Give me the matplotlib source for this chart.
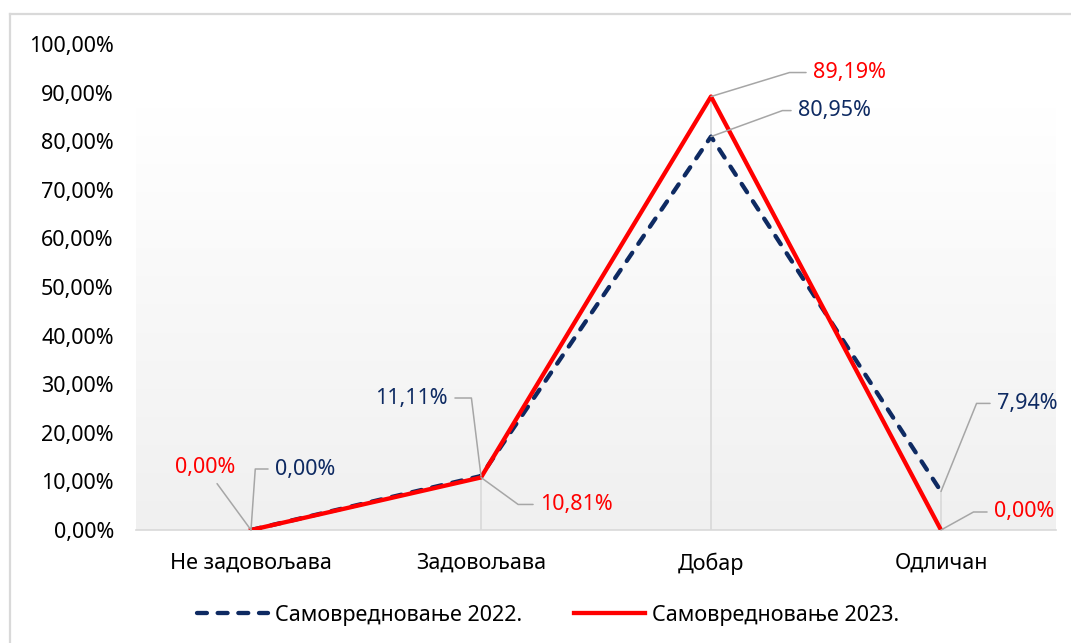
import matplotlib; matplotlib.use("Agg")
import matplotlib.pyplot as plt
import numpy as np
from matplotlib.colors import LinearSegmentedColormap
from matplotlib.ticker import FuncFormatter

# data
categories = ["Не задовољава", "Задовољава", "Добар", "Одличан"]
vals_2022 = [0.0, 11.11, 80.95, 7.94]
vals_2023 = [0.0, 10.81, 89.19, 0.0]
labels = ["Самовредновање 2022.", "Самовредновање 2023."]

BLUE = "#0E2A62"
RED = "#FF0000"
GRAY = "#A6A6A6"
FONT = ["Noto Sans", "DejaVu Sans"]
FS = 15.5

plt.rcParams["font.family"] = FONT

fig = plt.figure(figsize=(10.71, 6.43), dpi=100)
ax = fig.add_axes([136/1071, 113/643, 920/1071, 486/643])

# outer chart border (only left/top visible in the crop)
fig.add_artist(plt.Line2D([9.5/1071, 9.5/1071], [0, 1 - 14/643], transform=fig.transFigure,
                          color="#D9D9D9", lw=1.6))
fig.add_artist(plt.Line2D([9.5/1071, 1], [1 - 14/643, 1 - 14/643], transform=fig.transFigure,
                          color="#D9D9D9", lw=1.6))

# gradient plot-area background
cmap = LinearSegmentedColormap.from_list("bg", [(0, "#F0F0F0"), (0.87, "#FFFFFF"), (1, "#FFFFFF")])
grad = np.linspace(0, 1, 256).reshape(-1, 1)
ax.imshow(grad, cmap=cmap, aspect="auto", origin="lower", extent=(-0.5, 3.5, 0, 100),
          zorder=0, vmin=0, vmax=1)

x = np.arange(len(categories))
# drop lines
ax.vlines(x, 0, np.maximum(vals_2022, vals_2023), color="#D9D9D9", lw=1.2, zorder=1)

ax.plot(x, vals_2022, color=BLUE, lw=3.1, ls=(0, (2.3, 2.5)), dash_capstyle="round",
        zorder=3, label=labels[0])
ax.plot(x, vals_2023, color=RED, lw=3.1, zorder=4, label=labels[1])

ax.set_xlim(-0.5, 3.5)
ax.set_ylim(0, 100)
ax.set_yticks(np.arange(0, 101, 10))
ax.yaxis.set_major_formatter(FuncFormatter(lambda v, p: f"{v:.2f}%".replace(".", ",")))
ax.set_xticks(x)
ax.set_xticklabels(categories)
ax.tick_params(axis="both", length=0, labelsize=FS, colors="black")
ax.tick_params(axis="y", pad=16)
ax.tick_params(axis="x", pad=16)
for s in ["left", "right", "top"]:
    ax.spines[s].set_visible(False)
ax.spines["bottom"].set_color("#D9D9D9")
ax.spines["bottom"].set_linewidth(1.2)
ax.spines["bottom"].set_zorder(2)

def fmt(v):
    return f"{v:.2f}%".replace(".", ",")

# data labels with leader lines: (series, colour, index, text offset px, ha, leader angle)
label_specs = [
    (vals_2022, BLUE, 0, (24, 61), "left", 86),
    (vals_2023, RED, 0, (-16, 63), "right", None),
    (vals_2022, BLUE, 1, (-33, 78), "right", 97),
    (vals_2023, RED, 1, (59, -27), "left", -36),
    (vals_2023, RED, 2, (102, 24), "left", 17),
    (vals_2022, BLUE, 2, (87, 26), "left", 20),
    (vals_2022, BLUE, 3, (56, 88), "left", 68),
    (vals_2023, RED, 3, (53, 18), "left", 29),
]
for vals, col, i, (dx, dy), ha, ang in label_specs:
    if ang is None:
        cs = "arc3"
    else:
        cs = f"angle,angleA={180 if ha == 'left' else 0},angleB={ang},rad=0"
    ax.annotate(fmt(vals[i]), xy=(i, vals[i]), xytext=(dx * 0.72, dy * 0.72),
                textcoords="offset points", ha=ha, va="center", fontsize=FS, color=col,
                annotation_clip=False, zorder=6,
                arrowprops=dict(arrowstyle="-", color=GRAY, lw=1.1, shrinkA=3, shrinkB=0,
                                connectionstyle=cs))

leg = fig.legend(loc="center", bbox_to_anchor=(548/1071, 1 - 615/643), ncol=2, frameon=False,
                 handlelength=3.3, columnspacing=2.4, handletextpad=0.33, fontsize=FS)

fig.savefig("out.png", dpi=100)
